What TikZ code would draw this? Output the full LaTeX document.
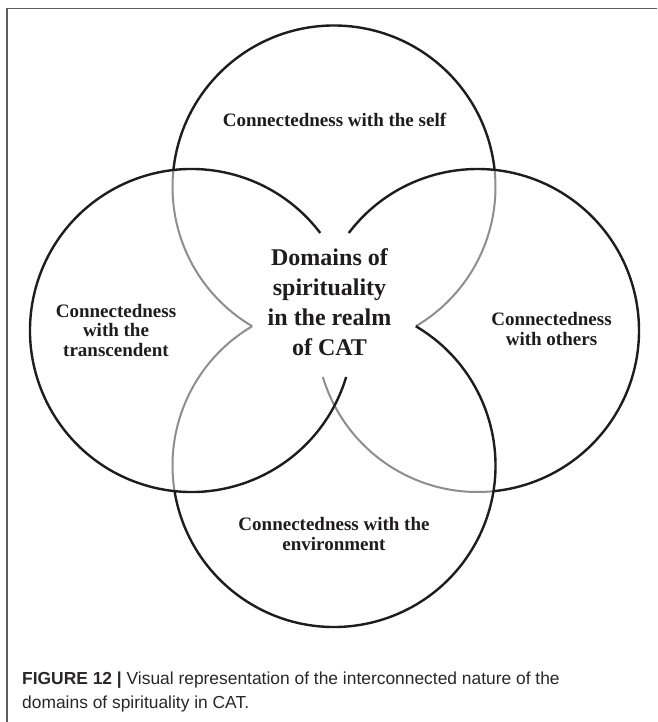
\documentclass[tikz,border=0pt]{standalone}
\usepackage{fontspec}
\setmainfont{Liberation Serif}
\newfontfamily\capfont{Liberation Sans}
\definecolor{inkblack}{HTML}{1E1C1D}
\definecolor{inkgray}{HTML}{8E8E8E}
\definecolor{framegray}{HTML}{5C5C5C}
\definecolor{captext}{HTML}{2A2728}
\begin{document}
\begin{tikzpicture}[x=1pt,y=-1pt,
  ringblack/.style={draw=inkblack, line width=2.4pt},
  ringgray/.style={draw=inkgray, line width=2pt},
  lbl/.style={font=\fontsize{19}{20}\selectfont\bfseries, anchor=base, inner sep=0pt, text=inkblack},
  ttl/.style={font=\fontsize{24}{30}\selectfont\bfseries, anchor=base, inner sep=0pt, text=inkblack},
  captxt/.style={font=\capfont\fontsize{17.4}{20}\selectfont, anchor=base west, inner sep=0pt, text=captext}]
\useasboundingbox (0,0) rectangle (657,722);
\fill[white] (0,0) rectangle (657,722);
% frame
\coordinate (f1) at (657,8.5);
\coordinate (f2) at (7,8.5);
\coordinate (f3) at (7,722);
\draw[framegray, line width=1.2pt] (f1) -- (f2) -- (f3);
% circle centres
\coordinate (T) at (334,187);
\coordinate (B) at (334,465.5);
\coordinate (L) at (191.5,330.5);
\coordinate (R) at (477.5,330.5);
% gray arcs
\draw[ringgray] (T) ++(-6.08:161.5) arc[start angle=-6.08, end angle=59.56, radius=161.5];
\draw[ringgray] (T) ++(120.44:161.5) arc[start angle=120.44, end angle=186.04, radius=161.5];
\draw[ringgray] (R) ++(84.3:161.5) arc[start angle=84.3, end angle=163.27, radius=161.5];
\draw[ringgray] (B) ++(170.88:161.5) arc[start angle=170.88, end angle=239.56, radius=161.5];
% black arcs
\draw[ringblack] (T) ++(-173.96:161.5) arc[start angle=-173.96, end angle=-6.08, radius=161.5];
\draw[ringblack] (L) ++(16.73:161.5) arc[start angle=16.73, end angle=322.86, radius=161.5];
\draw[ringblack] (R) ++(-142.86:161.5) arc[start angle=-142.86, end angle=84.3, radius=161.5];
\draw[ringblack] (B) ++(-59.56:161.5) arc[start angle=-59.56, end angle=170.88, radius=161.5];
% labels
\node[lbl] (self) at (334.5,127) {Connectedness with the self};
\node[lbl] (tr1) at (116,317) {Connectedness};
\node[lbl] (tr2) at (116,336.5) {with the};
\node[lbl] (tr3) at (116,356) {transcendent};
\node[lbl] (ot1) at (551.5,325) {Connectedness};
\node[lbl] (ot2) at (551.5,345) {with others};
\node[lbl] (en1) at (334,530) {Connectedness with the};
\node[lbl] (en2) at (334,550) {environment};
\node[ttl] (c1) at (329.5,265.7) {Domains of};
\node[ttl] (c2) at (329.5,295.7) {spirituality};
\node[ttl] (c3) at (329.5,325.7) {in the realm};
\node[ttl] (c4) at (329.5,355.7) {of CAT};
% caption
\node[captxt] (cap1) at (22,684) {{\bfseries FIGURE 12 |} Visual representation of the interconnected nature of the};
\node[captxt] (cap2) at (22,708) {domains of spirituality in CAT.};
\end{tikzpicture}
\end{document}
